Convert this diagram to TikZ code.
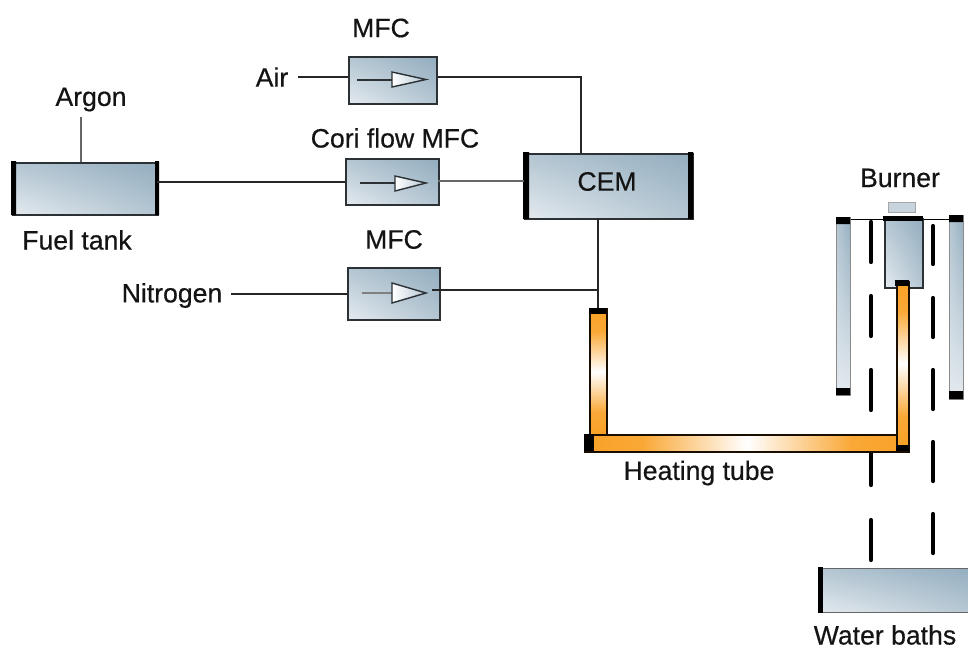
\documentclass[tikz,border=0pt]{standalone}
\usepackage{fontspec}
\usetikzlibrary{shadings}
\setmainfont{Liberation Sans}
\definecolor{steelA}{HTML}{E4EAEF}
\definecolor{steelB}{HTML}{B4C6D2}
\definecolor{steelC}{HTML}{93ADBF}
\definecolor{edgeC}{HTML}{2C3135}
\definecolor{tubeO}{HTML}{F9A126}
\pgfdeclareverticalshading{tubeglow}{100bp}{color(0bp)=(tubeO); color(25bp)=(tubeO); color(34bp)=(tubeO!92!white); color(50bp)=(white); color(66bp)=(tubeO!92!white); color(75bp)=(tubeO); color(100bp)=(tubeO)}
\tikzset{
 x=1pt,y=-1pt,
 lbl/.style={inner sep=0pt,font=\fontsize{26.6}{28}\selectfont\addfontfeatures{FakeBold=0.5},text=black!92},
 box/.style={draw=edgeC,line width=2.1pt,inner sep=0pt,
   lower left=steelA,upper left=steelB,upper right=steelC,lower right=steelB},
 pipe/.style={draw=black!85,line width=1.7pt},
 thinpipe/.style={draw=black!60,line width=1.5pt},
 flowtip/.style={draw=edgeC,line width=1.4pt,left color=white,right color=steelB},
 flowline/.style={draw=edgeC,line width=1.2pt},
 endcap/.style={fill=black,draw=none},
 dashbar/.style={draw=black,line width=4.2pt,line cap=round},
 tubev/.style={draw=black!90!orange,line width=1.7pt,shading=tubeglow},
 tubeh/.style={draw=black!90!orange,line width=1.7pt,shading=tubeglow,shading angle=90},
 column/.style={draw=black!45,line width=.8pt,lower left=steelA,upper left=steelB,upper right=steelC,lower right=steelA},
}
\newcommand{\bx}[5]{\node[box,anchor=north west,minimum width=#4pt-#2pt,minimum height=#5pt-#3pt] (#1) at (#2,#3) {};}
\begin{document}
\begin{tikzpicture}
\useasboundingbox (0,0) rectangle (968,648);
% boxes
\bx{mfcA}{348}{56}{436}{103}
\bx{mfcC}{345}{158}{438}{204}
\bx{mfcN}{347}{267}{439}{319}
\bx{cem}{524}{153}{692}{218}
\bx{fuel}{12}{162}{157}{214}
\fill[black] (11,161) rectangle (16,215) (155,161) rectangle (159,215);
\fill[black] (523,152) rectangle (529,219) (688,152) rectangle (693,219);
\begin{scope}
\clip (810,560) rectangle (968,620);
\node[box,draw=black!60,line width=1.4pt,anchor=north west,minimum width=160pt,minimum height=44pt] (bath) at (819,568) {};
\fill[black] (818,567) rectangle (823,613);
\end{scope}
% labels
\node[lbl] (tMfcA) at (381,28) {MFC};
\node[lbl] (tAir) at (272,77) {Air};
\node[lbl] (tArgon) at (91,99.5) {Argon};
\node[lbl] (tCori) at (395,138) {Cori flow MFC};
\node[lbl] (tCem) at (607,181.5) {CEM};
\node[lbl] (tBurner) at (900,178) {Burner};
\node[lbl] (tFuel) at (77,240) {Fuel tank};
\node[lbl] (tMfcN) at (394,239.5) {MFC};
\node[lbl] (tN2) at (172,295.5) {Nitrogen};
\node[lbl] (tHeat) at (699,473) {Heating tube};
\node[lbl] (tWater) at (885,635) {Water baths};
% free ends and junctions
\coordinate (airS) at (298,77);
\coordinate (airE) at (mfcA.west |- airS);
\coordinate (argonS) at (81,117);
\coordinate (argonE) at (argonS |- fuel.north);
\coordinate (n2S) at (231,294);
\coordinate (n2E) at (mfcN.west |- n2S);
\coordinate (jTop) at (581,77);
\coordinate (jTopE) at (jTop |- cem.north);
\coordinate (mfcAo) at (mfcA.east |- jTop);
\coordinate (fuelO) at (157,182);
\coordinate (coriI) at (mfcC.west |- fuelO);
\coordinate (coriO) at (438,181);
\coordinate (cemI) at (cem.west |- coriO);
\coordinate (cemO) at (598,218);
\coordinate (tubeTop) at (598,308);
\coordinate (nOut) at (432,290);
\coordinate (nJoin) at (598,290);
% connectors
\draw[pipe,line width=1.3pt] (airS) -- (airE);
\draw[pipe] (mfcAo) -- (jTop) -- (jTopE);
\draw[thinpipe,line width=1.2pt] (argonS) -- (argonE);
\draw[pipe] (fuelO) -- (coriI);
\draw[thinpipe] (coriO) -- (cemI);
\draw[pipe,line width=1.3pt] (n2S) -- (n2E);
\draw[pipe] (nOut) -- (nJoin);
\draw[pipe,line width=1.3pt] (cemO) -- (tubeTop);
% flow symbols
\draw[flowline] (357,80) -- (392,80);
\draw[flowtip] (392,72) -- (426,79.5) -- (392,87) -- cycle;
\draw[flowline] (360,183) -- (395,183);
\draw[flowtip] (395,176) -- (426,183) -- (395,191) -- cycle;
\draw[flowline,draw=black!50] (362,293) -- (392,293);
\draw[flowtip] (392,283) -- (426,293) -- (392,303) -- cycle;
% columns
\node[column,anchor=north west,minimum width=14pt,minimum height=178pt,inner sep=0pt] (colL) at (836,217) {};
\node[column,anchor=north west,minimum width=14pt,minimum height=184pt,inner sep=0pt] (colR) at (949,215) {};
\fill[endcap] (836,217) rectangle (850,224) (836,388) rectangle (850,395);
\fill[endcap] (949,215) rectangle (963,222) (949,391) rectangle (963,399);
% burner
\node[draw=black!35,line width=.8pt,fill=steelB!75!white,anchor=north west,minimum width=27pt,minimum height=10pt,inner sep=0pt] (nozzle) at (888,202) {};
\draw[draw=black,line width=1.2pt] (colL.north east |- 0,219.5) -- (colR.north west |- 0,219.5);
\bx{burner}{884}{218}{922}{287}
\fill[endcap] (883,216) rectangle (923,221);
% dashes
\foreach \a/\b in {222/262,296/336,370/410,450/485,520/560} \draw[dashbar] (871,\a) -- (871,\b);
\foreach \a/\b in {226/264,298/337,370/409,442/481,514/553} \draw[dashbar] (933,\a) -- (933,\b);
% tubes
\node[tubev,anchor=north west,minimum width=17pt,minimum height=126pt,inner sep=0pt] (tubeA) at (589,308) {};
\node[tubeh,anchor=north west,minimum width=324pt,minimum height=17pt,inner sep=0pt] (tubeB) at (584,434) {};
\node[tubev,anchor=north west,minimum width=12pt,minimum height=164pt,inner sep=0pt] (tubeC) at (896,281) {};
\fill[endcap] (589,308) rectangle (606,314);
\fill[endcap] (584,434) rectangle (594,451);
\fill[endcap] (895,280) rectangle (909,286);
\fill[endcap] (896,445) rectangle (909,451);
\end{tikzpicture}
\end{document}
